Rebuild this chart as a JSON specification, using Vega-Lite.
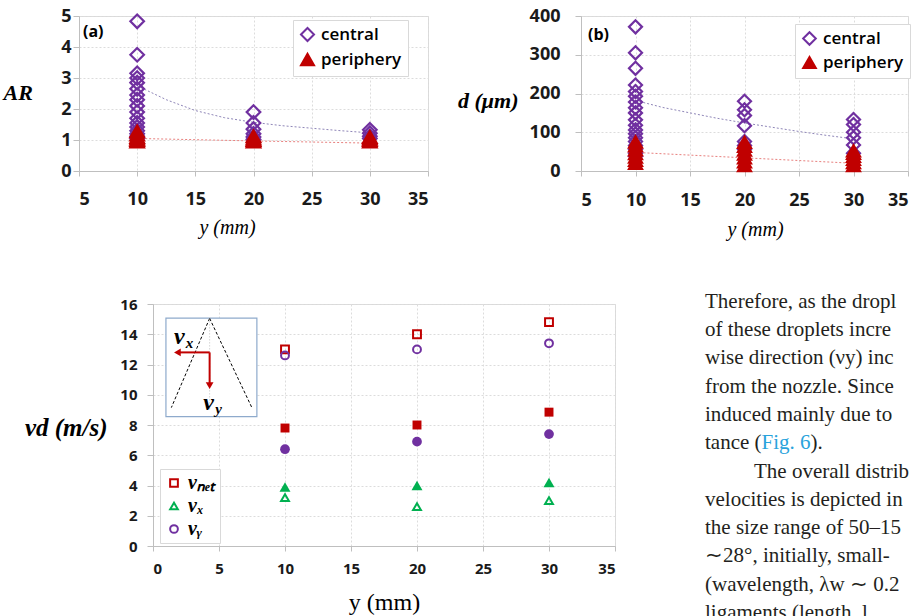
{
  "$schema": "https://vega.github.io/schema/vega-lite/v6.json",
  "padding": {"left": 2, "top": 6, "right": 0, "bottom": 0},
  "background": "white",
  "config": {
    "font": "Open Sans",
    "view": {"stroke": "#d9d9d9"},
    "axis": {"gridColor": "#dcdcdc", "gridDash": [2, 2], "gridWidth": 1, "domainColor": "#bfbfbf", "tickColor": "#bfbfbf", "labelFont": "Open Sans", "labelFontWeight": "bold", "labelColor": "#1a1a1a", "titleColor": "#000000", "titleFontWeight": "normal"}
  },
  "datasets": {
    "ar": [
      {"mm": 10, "AR": 4.83, "group": "central"}, {"mm": 10, "AR": 3.75, "group": "central"}, {"mm": 10, "AR": 3.15, "group": "central"}, {"mm": 10, "AR": 3.0, "group": "central"}, {"mm": 10, "AR": 2.85, "group": "central"}, {"mm": 10, "AR": 2.65, "group": "central"}, {"mm": 10, "AR": 2.45, "group": "central"}, {"mm": 10, "AR": 2.3, "group": "central"}, {"mm": 10, "AR": 2.1, "group": "central"}, {"mm": 10, "AR": 1.9, "group": "central"}, {"mm": 10, "AR": 1.7, "group": "central"}, {"mm": 10, "AR": 1.55, "group": "central"}, {"mm": 10, "AR": 1.42, "group": "central"}, {"mm": 10, "AR": 1.3, "group": "central"}, {"mm": 10, "AR": 1.2, "group": "central"}, {"mm": 10, "AR": 1.12, "group": "central"}, {"mm": 10, "AR": 1.05, "group": "central"},
      {"mm": 20, "AR": 1.9, "group": "central"}, {"mm": 20, "AR": 1.55, "group": "central"}, {"mm": 20, "AR": 1.35, "group": "central"}, {"mm": 20, "AR": 1.2, "group": "central"}, {"mm": 20, "AR": 1.1, "group": "central"}, {"mm": 20, "AR": 1.02, "group": "central"},
      {"mm": 30, "AR": 1.33, "group": "central"}, {"mm": 30, "AR": 1.22, "group": "central"}, {"mm": 30, "AR": 1.12, "group": "central"}, {"mm": 30, "AR": 1.05, "group": "central"},
      {"mm": 10, "AR": 0.95, "group": "periphery"}, {"mm": 10, "AR": 1.0, "group": "periphery"}, {"mm": 10, "AR": 1.05, "group": "periphery"}, {"mm": 10, "AR": 1.1, "group": "periphery"}, {"mm": 10, "AR": 1.18, "group": "periphery"}, {"mm": 10, "AR": 1.28, "group": "periphery"},
      {"mm": 20, "AR": 0.95, "group": "periphery"}, {"mm": 20, "AR": 1.0, "group": "periphery"}, {"mm": 20, "AR": 1.05, "group": "periphery"}, {"mm": 20, "AR": 1.12, "group": "periphery"},
      {"mm": 30, "AR": 0.95, "group": "periphery"}, {"mm": 30, "AR": 1.0, "group": "periphery"}, {"mm": 30, "AR": 1.05, "group": "periphery"}, {"mm": 30, "AR": 1.1, "group": "periphery"}
    ],
    "arFit": [
      {"mm": 10, "AR": 2.75, "group": "central"}, {"mm": 12.5, "AR": 2.3, "group": "central"}, {"mm": 15, "AR": 1.95, "group": "central"}, {"mm": 17.5, "AR": 1.72, "group": "central"}, {"mm": 20, "AR": 1.57, "group": "central"}, {"mm": 22.5, "AR": 1.46, "group": "central"}, {"mm": 25, "AR": 1.38, "group": "central"}, {"mm": 27.5, "AR": 1.3, "group": "central"}, {"mm": 30, "AR": 1.23, "group": "central"},
      {"mm": 10, "AR": 1.05, "group": "periphery"}, {"mm": 20, "AR": 0.97, "group": "periphery"}, {"mm": 30, "AR": 0.9, "group": "periphery"}
    ],
    "dia": [
      {"mm": 10, "d": 372, "group": "central"}, {"mm": 10, "d": 305, "group": "central"}, {"mm": 10, "d": 265, "group": "central"}, {"mm": 10, "d": 222, "group": "central"}, {"mm": 10, "d": 205, "group": "central"}, {"mm": 10, "d": 193, "group": "central"}, {"mm": 10, "d": 178, "group": "central"}, {"mm": 10, "d": 163, "group": "central"}, {"mm": 10, "d": 150, "group": "central"}, {"mm": 10, "d": 132, "group": "central"}, {"mm": 10, "d": 118, "group": "central"}, {"mm": 10, "d": 106, "group": "central"}, {"mm": 10, "d": 96, "group": "central"}, {"mm": 10, "d": 86, "group": "central"}, {"mm": 10, "d": 76, "group": "central"}, {"mm": 10, "d": 66, "group": "central"}, {"mm": 10, "d": 56, "group": "central"}, {"mm": 10, "d": 46, "group": "central"}, {"mm": 10, "d": 38, "group": "central"},
      {"mm": 20, "d": 180, "group": "central"}, {"mm": 20, "d": 158, "group": "central"}, {"mm": 20, "d": 143, "group": "central"}, {"mm": 20, "d": 117, "group": "central"}, {"mm": 20, "d": 76, "group": "central"}, {"mm": 20, "d": 66, "group": "central"}, {"mm": 20, "d": 56, "group": "central"},
      {"mm": 30, "d": 133, "group": "central"}, {"mm": 30, "d": 120, "group": "central"}, {"mm": 30, "d": 100, "group": "central"}, {"mm": 30, "d": 86, "group": "central"}, {"mm": 30, "d": 67, "group": "central"}, {"mm": 30, "d": 46, "group": "central"},
      {"mm": 10, "d": 20, "group": "periphery"}, {"mm": 10, "d": 28, "group": "periphery"}, {"mm": 10, "d": 36, "group": "periphery"}, {"mm": 10, "d": 45, "group": "periphery"}, {"mm": 10, "d": 55, "group": "periphery"}, {"mm": 10, "d": 65, "group": "periphery"}, {"mm": 10, "d": 75, "group": "periphery"},
      {"mm": 20, "d": 14, "group": "periphery"}, {"mm": 20, "d": 24, "group": "periphery"}, {"mm": 20, "d": 34, "group": "periphery"}, {"mm": 20, "d": 44, "group": "periphery"}, {"mm": 20, "d": 54, "group": "periphery"}, {"mm": 20, "d": 64, "group": "periphery"}, {"mm": 20, "d": 74, "group": "periphery"},
      {"mm": 30, "d": 14, "group": "periphery"}, {"mm": 30, "d": 22, "group": "periphery"}, {"mm": 30, "d": 30, "group": "periphery"}, {"mm": 30, "d": 38, "group": "periphery"}, {"mm": 30, "d": 46, "group": "periphery"}, {"mm": 30, "d": 52, "group": "periphery"}
    ],
    "diaFit": [
      {"mm": 10, "d": 182, "group": "central"}, {"mm": 12.5, "d": 164, "group": "central"}, {"mm": 15, "d": 150, "group": "central"}, {"mm": 17.5, "d": 136, "group": "central"}, {"mm": 20, "d": 124, "group": "central"}, {"mm": 22.5, "d": 113, "group": "central"}, {"mm": 25, "d": 102, "group": "central"}, {"mm": 27.5, "d": 92, "group": "central"}, {"mm": 30, "d": 83, "group": "central"},
      {"mm": 10, "d": 48, "group": "periphery"}, {"mm": 20, "d": 34, "group": "periphery"}, {"mm": 30, "d": 20, "group": "periphery"}
    ],
    "vel": [
      {"mm": 10, "val": 13.0, "series": "v_net", "kind": "open"}, {"mm": 20, "val": 14.0, "series": "v_net", "kind": "open"}, {"mm": 30, "val": 14.8, "series": "v_net", "kind": "open"},
      {"mm": 10, "val": 3.2, "series": "v_x", "kind": "open"}, {"mm": 20, "val": 2.6, "series": "v_x", "kind": "open"}, {"mm": 30, "val": 3.0, "series": "v_x", "kind": "open"},
      {"mm": 10, "val": 12.6, "series": "v_y", "kind": "open"}, {"mm": 20, "val": 13.0, "series": "v_y", "kind": "open"}, {"mm": 30, "val": 13.4, "series": "v_y", "kind": "open"},
      {"mm": 10, "val": 7.8, "series": "v_net", "kind": "filled"}, {"mm": 20, "val": 8.0, "series": "v_net", "kind": "filled"}, {"mm": 30, "val": 8.85, "series": "v_net", "kind": "filled"},
      {"mm": 10, "val": 3.9, "series": "v_x", "kind": "filled"}, {"mm": 20, "val": 4.0, "series": "v_x", "kind": "filled"}, {"mm": 30, "val": 4.2, "series": "v_x", "kind": "filled"},
      {"mm": 10, "val": 6.4, "series": "v_y", "kind": "filled"}, {"mm": 20, "val": 6.9, "series": "v_y", "kind": "filled"}, {"mm": 30, "val": 7.4, "series": "v_y", "kind": "filled"}
    ],
    "para": [
      {"line": 1, "text": "Therefore, as the dropl", "seg": "main"},
      {"line": 2, "text": "of these droplets incre", "seg": "main"},
      {"line": 3, "text": "wise direction (νy) inc", "seg": "main"},
      {"line": 4, "text": "from the nozzle. Since", "seg": "main"},
      {"line": 5, "text": "induced mainly due to", "seg": "main"},
      {"line": 6, "text": "tance (", "seg": "main"},
      {"line": 6, "text": "Fig. 6", "seg": "link"},
      {"line": 6, "text": ").", "seg": "tail"},
      {"line": 7, "text": "The overall distrib", "seg": "indent"},
      {"line": 8, "text": "velocities is depicted in", "seg": "main"},
      {"line": 9, "text": "the size range of 50–15", "seg": "main"},
      {"line": 10, "text": "∼28°, initially, small-", "seg": "main"},
      {"line": 11, "text": "(wavelength, λw ∼ 0.2", "seg": "main"},
      {"line": 12, "text": "ligaments (length, l", "seg": "main"}
    ]
  },
  "resolve": {"scale": {"shape": "independent", "stroke": "independent", "fill": "independent"}},
  "spacing": 50,
  "vconcat": [
    {
      "resolve": {"scale": {"shape": "independent", "stroke": "independent", "fill": "independent"}},
      "hconcat": [
        {
          "width": 349, "height": 155,
          "layer": [
            {"data": {"name": "arFit"}, "transform": [{"filter": "datum.group === 'central'"}], "mark": {"type": "line", "stroke": "#8f86b8", "strokeWidth": 1, "strokeDash": [2, 2]},
              "encoding": {
                "x": {"field": "mm", "type": "quantitative", "scale": {"domain": [5, 35], "nice": false},
                  "axis": {"values": [5, 10, 15, 20, 25, 30, 35], "title": "y (mm)", "labelFontSize": 18, "labelBaseline": "middle", "labelPadding": 23, "tickSize": 5, "titleFont": "Liberation Serif", "titleFontSize": 20, "titleFontStyle": "italic", "titleX": 148, "titleY": 56, "titleBaseline": "middle", "titleAlign": "center"}},
                "y": {"field": "AR", "type": "quantitative", "scale": {"domain": [0, 5], "nice": false},
                  "axis": {"values": [0, 1, 2, 3, 4, 5], "title": "AR", "labelFontSize": 18, "labelPadding": 2, "tickSize": 6, "titleFont": "Liberation Serif", "titleFontSize": 22, "titleFontStyle": "italic", "titleFontWeight": "bold", "titleAngle": 0, "titleAlign": "left", "titleBaseline": "middle", "titleX": -76, "titleY": 76}}
              }},
            {"data": {"name": "arFit"}, "transform": [{"filter": "datum.group === 'periphery'"}], "mark": {"type": "line", "stroke": "#e8807e", "strokeWidth": 1, "strokeDash": [2, 2]},
              "encoding": {
                "x": {"field": "mm", "type": "quantitative", "scale": {"domain": [5, 35], "nice": false},
                  "axis": {"values": [5, 10, 15, 20, 25, 30, 35], "title": "y (mm)", "labelFontSize": 18, "labelBaseline": "middle", "labelPadding": 23, "tickSize": 5, "titleFont": "Liberation Serif", "titleFontSize": 20, "titleFontStyle": "italic", "titleX": 148, "titleY": 56, "titleBaseline": "middle", "titleAlign": "center"}},
                "y": {"field": "AR", "type": "quantitative", "scale": {"domain": [0, 5], "nice": false},
                  "axis": {"values": [0, 1, 2, 3, 4, 5], "title": "AR", "labelFontSize": 18, "labelPadding": 2, "tickSize": 6, "titleFont": "Liberation Serif", "titleFontSize": 22, "titleFontStyle": "italic", "titleFontWeight": "bold", "titleAngle": 0, "titleAlign": "left", "titleBaseline": "middle", "titleX": -76, "titleY": 76}}
              }},
            {"data": {"name": "ar"}, "mark": {"type": "point", "filled": true, "strokeWidth": 2.2, "opacity": 1, "size": 185},
              "encoding": {
                "x": {"field": "mm", "type": "quantitative", "scale": {"domain": [5, 35], "nice": false},
                  "axis": {"values": [5, 10, 15, 20, 25, 30, 35], "title": "y (mm)", "labelFontSize": 18, "labelBaseline": "middle", "labelPadding": 23, "tickSize": 5, "titleFont": "Liberation Serif", "titleFontSize": 20, "titleFontStyle": "italic", "titleX": 148, "titleY": 56, "titleBaseline": "middle", "titleAlign": "center"}},
                "y": {"field": "AR", "type": "quantitative", "scale": {"domain": [0, 5], "nice": false},
                  "axis": {"values": [0, 1, 2, 3, 4, 5], "title": "AR", "labelFontSize": 18, "labelPadding": 2, "tickSize": 6, "titleFont": "Liberation Serif", "titleFontSize": 22, "titleFontStyle": "italic", "titleFontWeight": "bold", "titleAngle": 0, "titleAlign": "left", "titleBaseline": "middle", "titleX": -76, "titleY": 76}},
                "shape": {"field": "group", "type": "nominal", "scale": {"domain": ["central", "periphery"], "range": ["diamond", "triangle-up"]},
                  "legend": {"title": null, "orient": "none", "legendX": 214, "legendY": 4, "strokeColor": "#d9d9d9", "fillColor": "white", "padding": 6, "labelFont": "Open Sans", "labelFontSize": 17, "labelFontWeight": 600, "labelColor": "#000000", "rowPadding": 3, "symbolSize": 170, "symbolStrokeWidth": 2, "labelOffset": 5}},
                "stroke": {"field": "group", "type": "nominal", "scale": {"domain": ["central", "periphery"], "range": ["#7030a0", "#c00000"]},
                  "legend": {"title": null, "orient": "none", "legendX": 214, "legendY": 4}},
                "fill": {"field": "group", "type": "nominal", "scale": {"domain": ["central", "periphery"], "range": ["transparent", "#c00000"]},
                  "legend": {"title": null, "orient": "none", "legendX": 214, "legendY": 4}}
              }},
            {"data": {"values": [{"label": "(a)"}]}, "mark": {"type": "text", "align": "left", "baseline": "middle", "font": "Open Sans", "fontSize": 16, "fontWeight": "bold", "color": "#000000"},
              "encoding": {
                "x": {"datum": 5.34, "type": "quantitative", "scale": {"domain": [5, 35], "nice": false},
                  "axis": {"values": [5, 10, 15, 20, 25, 30, 35], "title": "y (mm)", "labelFontSize": 18, "labelBaseline": "middle", "labelPadding": 23, "tickSize": 5, "titleFont": "Liberation Serif", "titleFontSize": 20, "titleFontStyle": "italic", "titleX": 148, "titleY": 56, "titleBaseline": "middle", "titleAlign": "center"}},
                "y": {"datum": 4.48, "type": "quantitative", "scale": {"domain": [0, 5], "nice": false},
                  "axis": {"values": [0, 1, 2, 3, 4, 5], "title": "AR", "labelFontSize": 18, "labelPadding": 2, "tickSize": 6, "titleFont": "Liberation Serif", "titleFontSize": 22, "titleFontStyle": "italic", "titleFontWeight": "bold", "titleAngle": 0, "titleAlign": "left", "titleBaseline": "middle", "titleX": -76, "titleY": 76}},
                "text": {"field": "label"}
              }}
          ]
        },
        {
          "width": 327, "height": 155,
          "layer": [
            {"data": {"name": "diaFit"}, "transform": [{"filter": "datum.group === 'central'"}], "mark": {"type": "line", "stroke": "#8f86b8", "strokeWidth": 1, "strokeDash": [2, 2]},
              "encoding": {
                "x": {"field": "mm", "type": "quantitative", "scale": {"domain": [5, 35], "nice": false},
                  "axis": {"values": [5, 10, 15, 20, 25, 30, 35], "title": "y (mm)", "labelFontSize": 18, "labelBaseline": "middle", "labelPadding": 24, "tickSize": 5, "titleFont": "Liberation Serif", "titleFontSize": 20, "titleFontStyle": "italic", "titleX": 174, "titleY": 58, "titleBaseline": "middle", "titleAlign": "center"}},
                "y": {"field": "d", "type": "quantitative", "scale": {"domain": [0, 400], "nice": false},
                  "axis": {"values": [0, 100, 200, 300, 400], "title": "d (μm)", "labelFontSize": 18, "labelPadding": 15, "tickSize": 6, "titleFont": "Liberation Serif", "titleFontSize": 22, "titleFontStyle": "italic", "titleFontWeight": "bold", "titleAngle": 0, "titleAlign": "right", "titleBaseline": "middle", "titleX": -63, "titleY": 84}}
              }},
            {"data": {"name": "diaFit"}, "transform": [{"filter": "datum.group === 'periphery'"}], "mark": {"type": "line", "stroke": "#e8807e", "strokeWidth": 1, "strokeDash": [2, 2]},
              "encoding": {
                "x": {"field": "mm", "type": "quantitative", "scale": {"domain": [5, 35], "nice": false},
                  "axis": {"values": [5, 10, 15, 20, 25, 30, 35], "title": "y (mm)", "labelFontSize": 18, "labelBaseline": "middle", "labelPadding": 24, "tickSize": 5, "titleFont": "Liberation Serif", "titleFontSize": 20, "titleFontStyle": "italic", "titleX": 174, "titleY": 58, "titleBaseline": "middle", "titleAlign": "center"}},
                "y": {"field": "d", "type": "quantitative", "scale": {"domain": [0, 400], "nice": false},
                  "axis": {"values": [0, 100, 200, 300, 400], "title": "d (μm)", "labelFontSize": 18, "labelPadding": 15, "tickSize": 6, "titleFont": "Liberation Serif", "titleFontSize": 22, "titleFontStyle": "italic", "titleFontWeight": "bold", "titleAngle": 0, "titleAlign": "right", "titleBaseline": "middle", "titleX": -63, "titleY": 84}}
              }},
            {"data": {"name": "dia"}, "mark": {"type": "point", "filled": true, "strokeWidth": 2.2, "opacity": 1, "size": 170},
              "encoding": {
                "x": {"field": "mm", "type": "quantitative", "scale": {"domain": [5, 35], "nice": false},
                  "axis": {"values": [5, 10, 15, 20, 25, 30, 35], "title": "y (mm)", "labelFontSize": 18, "labelBaseline": "middle", "labelPadding": 24, "tickSize": 5, "titleFont": "Liberation Serif", "titleFontSize": 20, "titleFontStyle": "italic", "titleX": 174, "titleY": 58, "titleBaseline": "middle", "titleAlign": "center"}},
                "y": {"field": "d", "type": "quantitative", "scale": {"domain": [0, 400], "nice": false},
                  "axis": {"values": [0, 100, 200, 300, 400], "title": "d (μm)", "labelFontSize": 18, "labelPadding": 15, "tickSize": 6, "titleFont": "Liberation Serif", "titleFontSize": 22, "titleFontStyle": "italic", "titleFontWeight": "bold", "titleAngle": 0, "titleAlign": "right", "titleBaseline": "middle", "titleX": -63, "titleY": 84}},
                "shape": {"field": "group", "type": "nominal", "scale": {"domain": ["central", "periphery"], "range": ["diamond", "triangle-up"]},
                  "legend": {"title": null, "orient": "none", "legendX": 214, "legendY": 8, "strokeColor": "#d9d9d9", "fillColor": "white", "padding": 6, "labelFont": "Open Sans", "labelFontSize": 17, "labelFontWeight": 600, "labelColor": "#000000", "rowPadding": 4, "symbolSize": 160, "symbolStrokeWidth": 2, "labelOffset": 5}},
                "stroke": {"field": "group", "type": "nominal", "scale": {"domain": ["central", "periphery"], "range": ["#7030a0", "#c00000"]},
                  "legend": {"title": null, "orient": "none", "legendX": 214, "legendY": 8}},
                "fill": {"field": "group", "type": "nominal", "scale": {"domain": ["central", "periphery"], "range": ["transparent", "#c00000"]},
                  "legend": {"title": null, "orient": "none", "legendX": 214, "legendY": 8}}
              }},
            {"data": {"values": [{"label": "(b)"}]}, "mark": {"type": "text", "align": "left", "baseline": "middle", "font": "Open Sans", "fontSize": 16, "fontWeight": "bold", "color": "#000000"},
              "encoding": {
                "x": {"datum": 5.64, "type": "quantitative", "scale": {"domain": [5, 35], "nice": false},
                  "axis": {"values": [5, 10, 15, 20, 25, 30, 35], "title": "y (mm)", "labelFontSize": 18, "labelBaseline": "middle", "labelPadding": 24, "tickSize": 5, "titleFont": "Liberation Serif", "titleFontSize": 20, "titleFontStyle": "italic", "titleX": 174, "titleY": 58, "titleBaseline": "middle", "titleAlign": "center"}},
                "y": {"datum": 352, "type": "quantitative", "scale": {"domain": [0, 400], "nice": false},
                  "axis": {"values": [0, 100, 200, 300, 400], "title": "d (μm)", "labelFontSize": 18, "labelPadding": 15, "tickSize": 6, "titleFont": "Liberation Serif", "titleFontSize": 22, "titleFontStyle": "italic", "titleFontWeight": "bold", "titleAngle": 0, "titleAlign": "right", "titleBaseline": "middle", "titleX": -63, "titleY": 84}},
                "text": {"field": "label"}
              }}
          ]
        }
      ],
      "spacing": 153,
      "bounds": "flush"
    },
    {
      "resolve": {"scale": {"shape": "independent", "stroke": "independent", "fill": "independent"}},
      "hconcat": [
        {
          "width": 1, "height": 1,
          "view": {"stroke": null},
          "data": {"values": [{"k": 0}]},
          "mark": {"type": "point", "opacity": 0},
          "encoding": {}
        },
        {
          "width": 462, "height": 242,
          "encoding": {
            "x": {"field": "mm", "type": "quantitative", "scale": {"domain": [0, 35], "nice": false},
              "axis": {"values": [0, 5, 10, 15, 20, 25, 30, 35], "title": "y (mm)", "labelFontSize": 15, "labelBaseline": "middle", "labelPadding": 17, "tickSize": 5, "titleFont": "Liberation Serif", "titleFontSize": 24, "titleX": 231, "titleY": 56, "titleBaseline": "middle", "titleAlign": "center"}},
            "y": {"field": "val", "type": "quantitative", "scale": {"domain": [0, 16], "nice": false},
              "axis": {"values": [0, 2, 4, 6, 8, 10, 12, 14, 16], "title": "vd (m/s)", "labelFontSize": 15, "labelPadding": 10, "tickSize": 6, "titleFont": "Liberation Serif", "titleFontSize": 25, "titleFontStyle": "italic", "titleFontWeight": "bold", "titleAngle": 0, "titleAlign": "right", "titleBaseline": "middle", "titleX": -46, "titleY": 123}}
          },
          "layer": [
            {"data": {"values": [{"mm": 0.98, "val": 15.07, "mm2": 7.87, "val2": 8.55}]}, "mark": {"type": "rect", "fill": "white", "stroke": "#8eaacc", "strokeWidth": 1.2},
              "encoding": {"x2": {"field": "mm2"}, "y2": {"field": "val2"}}},
            {"data": {"values": [{"mm": 4.29, "val": 15.05, "mm2": 1.39, "val2": 9.15}, {"mm": 4.29, "val": 15.05, "mm2": 7.49, "val2": 9.15}]}, "mark": {"type": "rule", "stroke": "#000000", "strokeDash": [3, 2], "strokeWidth": 1},
              "encoding": {"x2": {"field": "mm2"}, "y2": {"field": "val2"}}},
            {"data": {"values": [{"mm": 4.29, "val": 15.05, "mm2": 4.29, "val2": 8.9}]}, "mark": {"type": "rule", "stroke": "#b0b0b0", "strokeDash": [1, 2], "strokeWidth": 0.8},
              "encoding": {"x2": {"field": "mm2"}, "y2": {"field": "val2"}}},
            {"data": {"values": [{"mm": 4.29, "val": 12.8, "mm2": 2.0, "val2": 12.8}, {"mm": 4.29, "val": 12.8, "mm2": 4.29, "val2": 10.75}]}, "mark": {"type": "rule", "stroke": "#c00000", "strokeWidth": 2},
              "encoding": {"x2": {"field": "mm2"}, "y2": {"field": "val2"}}},
            {"data": {"values": [{"mm": 1.85, "val": 12.8}]}, "mark": {"type": "point", "shape": "triangle-left", "filled": true, "color": "#c00000", "size": 60, "opacity": 1}, "encoding": {}},
            {"data": {"values": [{"mm": 4.29, "val": 10.6}]}, "mark": {"type": "point", "shape": "triangle-down", "filled": true, "color": "#c00000", "size": 60, "opacity": 1}, "encoding": {}},
            {"data": {"values": [{"mm": 2.0, "val": 13.85, "main": "v", "sub": "x"}, {"mm": 4.21, "val": 9.43, "main": "v", "sub": "y"}]},
              "layer": [
                {"mark": {"type": "text", "font": "Liberation Serif", "fontSize": 24, "fontStyle": "italic", "fontWeight": "bold", "color": "#000000", "baseline": "middle"}, "encoding": {"text": {"field": "main"}}},
                {"mark": {"type": "text", "font": "Liberation Serif", "fontSize": 15, "fontStyle": "italic", "fontWeight": "bold", "color": "#000000", "baseline": "middle", "dx": 10, "dy": 6}, "encoding": {"text": {"field": "sub"}}}
              ]},
            {"data": {"name": "vel"}, "transform": [{"filter": "datum.kind === 'open'"}], "mark": {"type": "point", "filled": false, "strokeWidth": 2, "opacity": 1, "size": 62},
              "encoding": {
                "shape": {"field": "series", "type": "nominal", "scale": {"domain": ["v_net", "v_x", "v_y"], "range": ["square", "triangle-up", "circle"]},
                  "legend": {"title": null, "orient": "none", "legendX": 7, "legendY": 165, "strokeColor": "#d9d9d9", "fillColor": "white", "padding": 4, "labelFont": "Liberation Serif", "labelFontSize": 20, "labelFontStyle": "italic", "labelFontWeight": "bold", "labelColor": "#000000", "rowPadding": 3, "symbolSize": 60, "symbolStrokeWidth": 2, "labelOffset": 4, "labelExpr": "{'v_net': 'vₙₑₜ', 'v_x': 'vₓ', 'v_y': 'vᵧ'}[datum.label]"}},
                "stroke": {"field": "series", "type": "nominal", "scale": {"domain": ["v_net", "v_x", "v_y"], "range": ["#c00000", "#00b050", "#7030a0"]},
                  "legend": {"title": null, "orient": "none", "legendX": 7, "legendY": 165}}
              }},
            {"data": {"name": "vel"}, "transform": [{"filter": "datum.kind === 'filled' && datum.series === 'v_net'"}], "mark": {"type": "point", "shape": "square", "filled": true, "color": "#c00000", "opacity": 1, "size": 80}},
            {"data": {"name": "vel"}, "transform": [{"filter": "datum.kind === 'filled' && datum.series === 'v_x'"}], "mark": {"type": "point", "shape": "triangle-up", "filled": true, "color": "#00b050", "opacity": 1, "size": 120}},
            {"data": {"name": "vel"}, "transform": [{"filter": "datum.kind === 'filled' && datum.series === 'v_y'"}], "mark": {"type": "point", "shape": "circle", "filled": true, "color": "#7030a0", "opacity": 1, "size": 95}}
          ]
        },
        {
          "width": 215, "height": 242,
          "view": {"stroke": null},
          "data": {"name": "para"},
          "encoding": {
            "x": {"value": 0},
            "y": {"field": "line", "type": "quantitative", "scale": {"domain": [1.081, 9.632], "reverse": true, "nice": false, "zero": false}, "axis": null},
            "text": {"field": "text"}
          },
          "layer": [
            {"transform": [{"filter": "datum.seg === 'main'"}], "mark": {"type": "text", "align": "left", "baseline": "middle", "font": "Liberation Serif", "fontSize": 21, "color": "#231f20", "dx": 17}},
            {"transform": [{"filter": "datum.seg === 'indent'"}], "mark": {"type": "text", "align": "left", "baseline": "middle", "font": "Liberation Serif", "fontSize": 21, "color": "#231f20", "dx": 66}},
            {"transform": [{"filter": "datum.seg === 'link'"}], "mark": {"type": "text", "align": "left", "baseline": "middle", "font": "Liberation Serif", "fontSize": 21, "color": "#29a3dc", "dx": 73.6}},
            {"transform": [{"filter": "datum.seg === 'tail'"}], "mark": {"type": "text", "align": "left", "baseline": "middle", "font": "Liberation Serif", "fontSize": 21, "color": "#231f20", "dx": 122.6}}
          ]
        }
      ],
      "spacing": 73,
      "bounds": "flush"
    }
  ]
}
